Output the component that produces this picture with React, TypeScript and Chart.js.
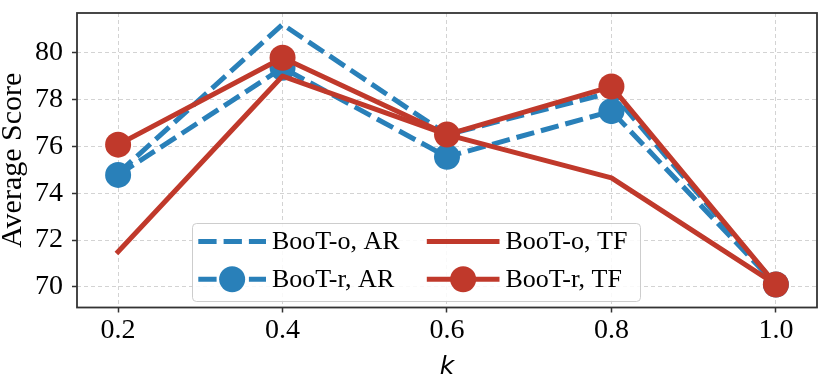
import React, { useEffect, useRef } from 'react';
import { Chart, registerables } from 'chart.js';

Chart.register(...registerables);

const kValues = [0.2, 0.4, 0.6, 0.8, 1.0];
const xTickLabels = ['0.2', '0.4', '0.6', '0.8', '1.0'];
const yTicks = [70, 72, 74, 76, 78, 80];

const bootO_AR = [74.85, 81.2, 76.5, 78.3, 70.1];
const bootR_AR = [74.78, 79.35, 75.55, 77.5, 70.1];
const bootO_TF = [71.5, 79.0, 76.5, 74.65, 70.1];
const bootR_TF = [76.07, 79.78, 76.5, 78.55, 70.1];

const seriesNames = ['BooT-o, AR', 'BooT-r, AR', 'BooT-o, TF', 'BooT-r, TF'];

const BLUE = '#2980b9';
const RED = '#c0392b';
const SERIF = "'Liberation Serif', 'Times New Roman', serif";

const toPoints = (ys: number[]) => ys.map((y, i) => ({ x: kValues[i], y }));

const framePlugin = {
  id: 'frame',
  afterDraw(chart: any) {
    const { ctx, chartArea } = chart;
    ctx.save();
    ctx.strokeStyle = '#333333';
    ctx.lineWidth = 1.8;
    ctx.strokeRect(chartArea.left, chartArea.top, chartArea.right - chartArea.left, chartArea.bottom - chartArea.top);
    ctx.restore();
  },
};

const legendPlugin = {
  id: 'boxLegend',
  afterDatasetsDraw(chart: any) {
    const ctx = chart.ctx;
    ctx.save();
    const x0 = 192, y0 = 223, w = 448, h = 78;
    ctx.beginPath();
    (ctx as any).roundRect(x0 + 0.5, y0 + 0.5, w, h, 4);
    ctx.fillStyle = 'rgba(255,255,255,0.85)';
    ctx.fill();
    ctx.strokeStyle = 'rgba(200,200,200,0.9)';
    ctx.lineWidth = 1;
    ctx.stroke();
    const colStart = [198.3, 429.3];
    const rowY = [241.5, 279.3];
    const sampleLen = 67.7;
    chart.data.datasets.forEach((ds: any, i: number) => {
      const col = Math.floor(i / 2);
      const row = i % 2;
      const x1 = colStart[col];
      const x2 = x1 + sampleLen;
      const y = rowY[row];
      ctx.beginPath();
      ctx.setLineDash(ds.borderDash || []);
      ctx.lineCap = ds.borderCapStyle;
      ctx.lineWidth = ds.borderWidth;
      ctx.strokeStyle = ds.borderColor;
      ctx.moveTo(x1, y);
      ctx.lineTo(x2, y);
      ctx.stroke();
      ctx.setLineDash([]);
      if (ds.pointRadius > 0) {
        ctx.beginPath();
        ctx.arc((x1 + x2) / 2, y, ds.pointRadius, 0, Math.PI * 2);
        ctx.fillStyle = ds.pointBackgroundColor;
        ctx.fill();
      }
      ctx.fillStyle = '#000';
      ctx.font = `26px ${SERIF}`;
      ctx.textBaseline = 'middle';
      ctx.textAlign = 'left';
      ctx.fillText(ds.label, x2 + 6 + (ds.borderCapStyle === 'square' ? 2.5 : 0), y + 1);
    });
    ctx.restore();
  },
};

export default function App() {
  const ref = useRef<HTMLCanvasElement | null>(null);
  useEffect(() => {
    if (!ref.current) return;
    const mk = (i: number, ys: number[], color: string, dashed: boolean, marker: boolean, order: number) => ({
      label: seriesNames[i],
      data: toPoints(ys),
      borderColor: color,
      backgroundColor: color,
      borderWidth: 5,
      borderDash: dashed ? [18.3, 7] : [],
      borderCapStyle: dashed ? 'butt' : 'square',
      borderJoinStyle: 'round',
      pointRadius: marker ? 13 : 0,
      pointHoverRadius: marker ? 13 : 0,
      pointBorderWidth: 0,
      pointBackgroundColor: color,
      tension: 0,
      fill: false,
      order,
    });
    const chart = new Chart(ref.current, {
      type: 'line',
      data: {
        datasets: [
          mk(0, bootO_AR, BLUE, true, false, 3),
          mk(1, bootR_AR, BLUE, true, true, 2),
          mk(2, bootO_TF, RED, false, false, 1),
          mk(3, bootR_TF, RED, false, true, 0),
        ] as any,
      },
      options: {
        animation: false,
        responsive: false,
        devicePixelRatio: 1,
        layout: { padding: { top: 1, right: 1.5, left: 0, bottom: 0 } },
        plugins: { legend: { display: false }, tooltip: { enabled: false } },
        scales: {
          x: {
            type: 'linear',
            min: 0.15,
            max: 1.05,
            afterBuildTicks: (s: any) => {
              s.ticks = kValues.map((v) => ({ value: v }));
            },
            afterFit: (s: any) => {
              s.height = 67.5;
              s.paddingLeft = 0;
              s.paddingRight = 0;
            },
            ticks: {
              callback: (v: any) => xTickLabels[kValues.findIndex((k) => Math.abs(k - v) < 1e-6)],
              font: { family: SERIF, size: 28 },
              color: '#000',
              padding: 1,
              maxRotation: 0,
              autoSkip: false,
            },
            grid: {
              color: '#d3d3d3',
              lineWidth: 1,
              tickLength: 5,
              tickColor: '#333',
              tickWidth: 1.5,
              tickBorderDash: [],
            },
            border: { display: false, dash: [4, 3] },
            title: {
              display: true,
              text: 'k',
              font: { family: "'DejaVu Sans', sans-serif", style: 'italic', size: 25, lineHeight: 0.6 },
              color: '#000',
              padding: 0,
            },
          },
          y: {
            type: 'linear',
            min: 69.12,
            max: 81.69,
            afterBuildTicks: (s: any) => {
              s.ticks = yTicks.map((v) => ({ value: v }));
            },
            afterFit: (s: any) => {
              s.width = 77;
              s.paddingTop = 0;
              s.paddingBottom = 0;
            },
            ticks: {
              callback: (v: any) => String(v),
              font: { family: SERIF, size: 28 },
              color: '#000',
              padding: 9,
            },
            grid: {
              color: '#d3d3d3',
              lineWidth: 1,
              tickLength: 5,
              tickColor: '#333',
              tickWidth: 1.5,
              tickBorderDash: [],
            },
            border: { display: false, dash: [4, 3] },
            title: {
              display: true,
              text: 'Average Score',
              font: { family: SERIF, size: 30, lineHeight: 0.87 },
              color: '#000',
              padding: 0,
            },
          },
        },
      } as any,
      plugins: [framePlugin, legendPlugin],
    });
    return () => chart.destroy();
  }, []);
  return (
    <div style={{ position: 'absolute', left: 0, top: 0, width: 830, height: 375, background: '#fff' }}>
      <canvas ref={ref} width={830} height={375} style={{ display: 'block' }} />
    </div>
  );
}
